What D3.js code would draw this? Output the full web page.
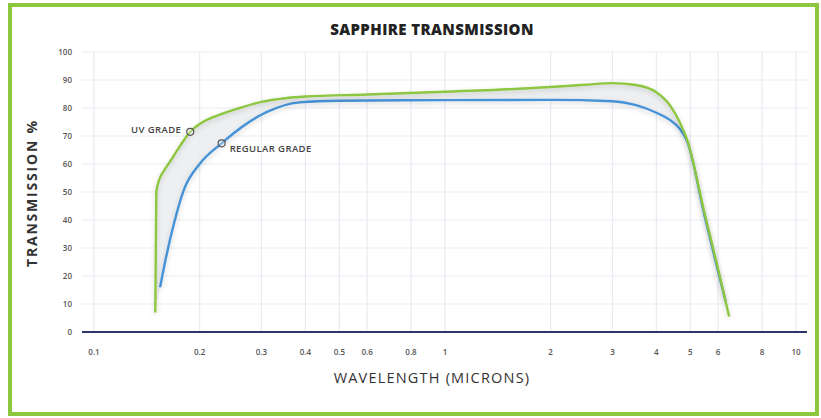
<!DOCTYPE html>
<html lang="en">
<head>
<meta charset="UTF-8">
<title>Sapphire Transmission</title>
<script src="https://cdnjs.cloudflare.com/ajax/libs/d3/7.8.5/d3.min.js"></script>
<style>
    body { margin: 0; background: #fff; font-family: "Open Sans", Arial, sans-serif; }
    .grid line { stroke: #e7ebf1; stroke-width: 1.2; }
    .tick-label { font-size: 8px; fill: #555; font-weight: 600; }
    .curve { fill: none; stroke-width: 2.4; }
    .note { font-size: 9.5px; font-weight: 600; fill: #444; letter-spacing: 0.4px; }
</style>
</head>
<body>
<div id="chart"></div>
<script>
    // values
    const xTicks = [0.1, 0.2, 0.3, 0.4, 0.5, 0.6, 0.8, 1, 2, 3, 4, 5, 6, 8, 10];
    const xTickLabels = ["0.1", "0.2", "0.3", "0.4", "0.5", "0.6", "0.8", "1", "2", "3", "4", "5", "6", "8", "10"];
    const yTicks = [0, 10, 20, 30, 40, 50, 60, 70, 80, 90, 100];

    const uvWavelength = [0.1495, 0.1505, 0.153, 0.158, 0.165, 0.177, 0.188, 0.2, 0.23, 0.26, 0.3, 0.35, 0.4, 0.6, 1, 2, 2.5, 3, 3.5, 4, 4.4, 4.65, 4.9, 5.5, 6, 6.45];
    const uvValue = [7, 50, 54, 57.5, 61, 67, 71.5, 74.3, 77.8, 80, 82.2, 83.5, 84.1, 84.8, 85.8, 87.5, 88.3, 88.9, 88.2, 85.6, 80.5, 75.3, 68.5, 42, 22.5, 5.5];

    const regWavelength = [0.1543, 0.16, 0.17, 0.18, 0.2, 0.231, 0.25, 0.31, 0.386, 0.5, 1, 2, 3, 3.5, 4, 4.4, 4.65, 4.9, 5.5, 6, 6.3];
    const regValue = [16, 26, 40, 50.5, 60, 67.4, 71, 78.5, 82, 82.6, 82.8, 82.9, 82.4, 81, 78.3, 75.5, 72.8, 68, 41, 21.5, 11];

    const markers = [
        {label: "UV GRADE", w: 0.188, v: 71.5, side: "left"},
        {label: "REGULAR GRADE", w: 0.231, v: 67.4, side: "right"}
    ];

    const W = 821, H = 418;
    const svg = d3.select("#chart").append("svg")
        .attr("width", W).attr("height", H);

    // outer green frame
    svg.append("rect")
        .attr("x", 10).attr("y", 5)
        .attr("width", 807).attr("height", 409)
        .attr("fill", "#fff")
        .attr("stroke", "#8dc63f")
        .attr("stroke-width", 4);

    const x = d3.scaleLog().domain([0.1, 10]).range([94, 796]);
    const y = d3.scaleLinear().domain([0, 100]).range([332, 52]);
    const left = 82, right = 807;

    // grid
    const grid = svg.append("g").attr("class", "grid");
    grid.selectAll(".h").data(yTicks.filter(d => d > 0)).enter().append("line")
        .attr("x1", left).attr("x2", right)
        .attr("y1", d => y(d)).attr("y2", d => y(d));
    grid.selectAll(".v").data(xTicks).enter().append("line")
        .attr("x1", d => x(d)).attr("x2", d => x(d))
        .attr("y1", y(100)).attr("y2", y(0));

    // y tick labels
    svg.append("g").selectAll("text").data(yTicks).enter().append("text")
        .attr("class", "tick-label")
        .attr("x", 72).attr("y", d => y(d) + 3)
        .attr("text-anchor", "end")
        .text(d => d);

    // x tick labels
    svg.append("g").selectAll("text").data(xTicks).enter().append("text")
        .attr("class", "tick-label")
        .attr("x", d => x(d)).attr("y", 355)
        .attr("text-anchor", "middle")
        .text((d, i) => xTickLabels[i]);

    // shadow filter
    const defs = svg.append("defs");
    const f = defs.append("filter").attr("id", "shadow")
        .attr("x", "-10%").attr("y", "-10%").attr("width", "120%").attr("height", "130%");
    f.append("feDropShadow").attr("dx", 0).attr("dy", 2).attr("stdDeviation", 2.5)
        .attr("flood-color", "#000").attr("flood-opacity", 0.18);

    const uvData = uvWavelength.map((w, i) => [w, uvValue[i]]);
    const regData = regWavelength.map((w, i) => [w, regValue[i]]);

    const line = d3.line()
        .x(d => x(d[0])).y(d => y(d[1]))
        .curve(d3.curveMonotoneX);

    // light band between the two grades
    const band = line(uvData) + "L" + line(regData.slice().reverse()).slice(1) + "Z";
    svg.append("path")
        .attr("d", band)
        .attr("fill", "#ebedf0")
        .attr("opacity", 0.9);

    svg.append("path").datum(regData)
        .attr("class", "curve")
        .attr("stroke", "#4592d6")
        .attr("filter", "url(#shadow)")
        .attr("d", line);

    svg.append("path").datum(uvData)
        .attr("class", "curve")
        .attr("stroke", "#8dc63f")
        .attr("filter", "url(#shadow)")
        .attr("d", line);

    // baseline
    svg.append("line")
        .attr("x1", left).attr("x2", right)
        .attr("y1", y(0)).attr("y2", y(0))
        .attr("stroke", "#2e3566").attr("stroke-width", 2);

    // markers
    markers.forEach(m => {
        svg.append("circle")
            .attr("cx", x(m.w)).attr("cy", y(m.v)).attr("r", 3.5)
            .attr("fill", "#fff").attr("fill-opacity", 0.3)
            .attr("stroke", "#555").attr("stroke-width", 1.2);
        svg.append("text")
            .attr("class", "note")
            .attr("x", m.side === "left" ? x(m.w) - 9 : x(m.w) + 8)
            .attr("y", m.side === "left" ? y(m.v) + 1 : y(m.v) + 9)
            .attr("text-anchor", m.side === "left" ? "end" : "start")
            .text(m.label);
    });

    // title and axis labels
    svg.append("text")
        .attr("x", 432).attr("y", 35)
        .attr("text-anchor", "middle")
        .style("font-size", "15px").style("font-weight", 800).style("fill", "#222")
        .style("letter-spacing", "0.4px")
        .text("SAPPHIRE TRANSMISSION");

    svg.append("text")
        .attr("x", 432).attr("y", 383)
        .attr("text-anchor", "middle")
        .style("font-size", "14.5px").style("fill", "#333")
        .style("letter-spacing", "1.2px")
        .text("WAVELENGTH (MICRONS)");

    svg.append("text")
        .attr("transform", "translate(37,193) rotate(-90)")
        .attr("text-anchor", "middle")
        .style("font-size", "14px").style("font-weight", 700).style("fill", "#333")
        .style("letter-spacing", "1.8px")
        .text("TRANSMISSION %");
</script>
</body>
</html>
